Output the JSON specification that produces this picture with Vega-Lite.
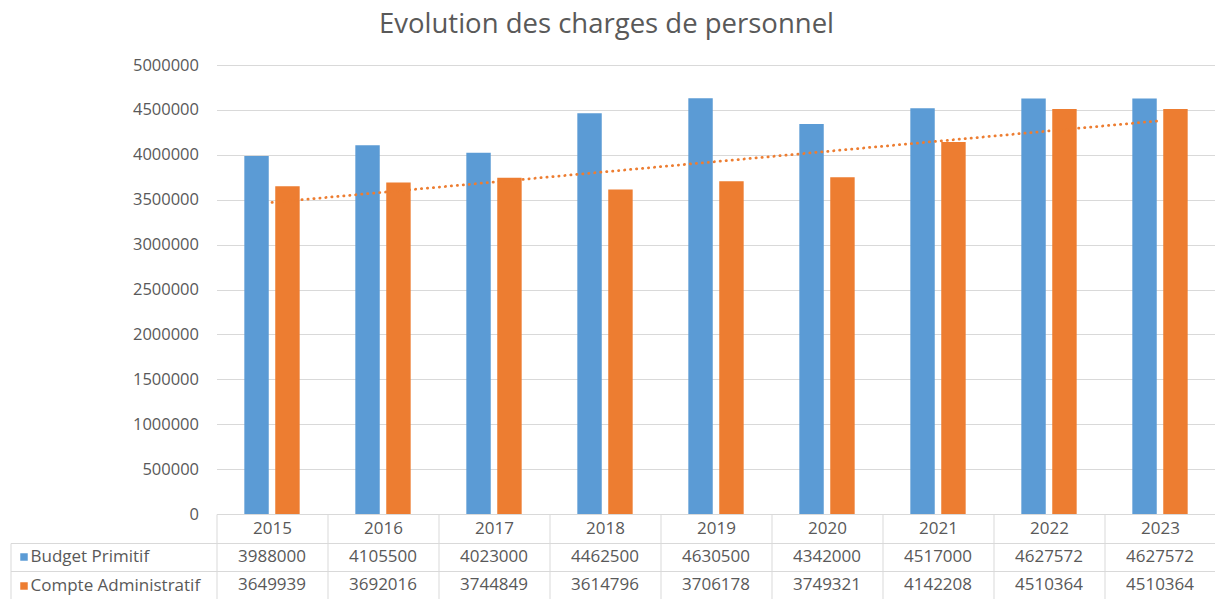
{
  "$schema": "https://vega.github.io/schema/vega-lite/v6.json",
  "padding": {"left": 9.5, "top": 10, "right": 0, "bottom": 0},
  "autosize": {"type": "pad"},
  "background": "white",
  "config": {"font": "Open Sans", "view": {"stroke": null}},
  "title": {"text": "Evolution des charges de personnel", "fontSize": 27.5, "fontWeight": "normal", "color": "#595959", "anchor": "middle", "offset": 19, "dx": -7, "font": "Open Sans"},
  "data": {"values": [
    {"year": 2015, "series": "Budget Primitif", "value": 3988000},
    {"year": 2016, "series": "Budget Primitif", "value": 4105500},
    {"year": 2017, "series": "Budget Primitif", "value": 4023000},
    {"year": 2018, "series": "Budget Primitif", "value": 4462500},
    {"year": 2019, "series": "Budget Primitif", "value": 4630500},
    {"year": 2020, "series": "Budget Primitif", "value": 4342000},
    {"year": 2021, "series": "Budget Primitif", "value": 4517000},
    {"year": 2022, "series": "Budget Primitif", "value": 4627572},
    {"year": 2023, "series": "Budget Primitif", "value": 4627572},
    {"year": 2015, "series": "Compte Administratif", "value": 3649939},
    {"year": 2016, "series": "Compte Administratif", "value": 3692016},
    {"year": 2017, "series": "Compte Administratif", "value": 3744849},
    {"year": 2018, "series": "Compte Administratif", "value": 3614796},
    {"year": 2019, "series": "Compte Administratif", "value": 3706178},
    {"year": 2020, "series": "Compte Administratif", "value": 3749321},
    {"year": 2021, "series": "Compte Administratif", "value": 4142208},
    {"year": 2022, "series": "Compte Administratif", "value": 4510364},
    {"year": 2023, "series": "Compte Administratif", "value": 4510364}
  ]},
  "bounds": "flush",
  "spacing": 29,
  "resolve": {"scale": {"x": "independent", "y": "independent", "color": "independent"}},
  "vconcat": [
    {
      "width": 999,
      "height": 449,
      "layer": [
        {
          "mark": {"type": "bar"},
          "encoding": {
            "x": {"field": "year", "type": "ordinal", "scale": {"paddingInner": 0, "paddingOuter": 0},
              "axis": {"title": null, "labelAngle": 0, "domainColor": "#d9d9d9", "tickBand": "extent", "tickSize": 29, "tickColor": "#d9d9d9", "labelPadding": -14.5, "labelBaseline": "middle", "labelFontSize": 17, "labelColor": "#595959", "labelFont": "Open Sans"}},
            "xOffset": {"field": "series", "type": "nominal", "sort": ["Budget Primitif", "Compte Administratif"], "scale": {"paddingInner": 0.21, "paddingOuter": 0.9}},
            "y": {"field": "value", "type": "quantitative", "scale": {"domain": [0, 5000000]},
              "axis": {"title": null, "values": [0, 500000, 1000000, 1500000, 2000000, 2500000, 3000000, 3500000, 4000000, 4500000, 5000000], "format": "d", "domain": false, "ticks": false, "gridColor": "#d9d9d9", "labelFontSize": 16.5, "labelColor": "#595959", "labelPadding": 18, "labelFont": "Open Sans"}},
            "color": {"field": "series", "type": "nominal",
              "scale": {"domain": ["Budget Primitif", "Compte Administratif"], "range": ["#5B9BD5", "#ED7D31"]},
              "legend": {"title": null, "orient": "none", "legendX": -201, "legendY": 483.5, "symbolType": "square", "symbolSize": 56, "symbolStrokeWidth": 0, "labelFontSize": 17, "labelColor": "#595959", "labelOffset": -2, "labelLimit": 400, "rowPadding": 11, "padding": 0, "labelFont": "Open Sans"}}
          }
        },
        {
          "transform": [
            {"filter": "datum.series === 'Compte Administratif'"},
            {"regression": "value", "on": "year"}
          ],
          "mark": {"type": "line", "color": "#ED7D31", "strokeWidth": 2.75, "strokeDash": [0.3, 5.7], "strokeCap": "round"},
          "encoding": {
            "x": {"field": "year", "type": "ordinal", "bandPosition": 0.5},
            "y": {"field": "value", "type": "quantitative"}
          }
        }
      ]
    },
    {
      "width": 999,
      "height": 56,
      "mark": {"type": "text", "fontSize": 17, "color": "#595959", "font": "Open Sans"},
      "encoding": {
        "x": {"field": "year", "type": "ordinal", "scale": {"paddingInner": 0, "paddingOuter": 0},
          "axis": {"title": null, "labels": false, "ticks": false, "domain": false, "grid": true, "tickBand": "extent", "gridColor": "#d9d9d9"}},
        "y": {"field": "series", "type": "nominal", "sort": ["Budget Primitif", "Compte Administratif"],
          "axis": {"title": null, "labels": false, "offset": 206, "domainColor": "#d9d9d9", "tickBand": "extent", "tickSize": -1206, "tickColor": "#d9d9d9", "grid": false}},
        "text": {"field": "value", "type": "quantitative", "format": "d"}
      }
    }
  ]
}
